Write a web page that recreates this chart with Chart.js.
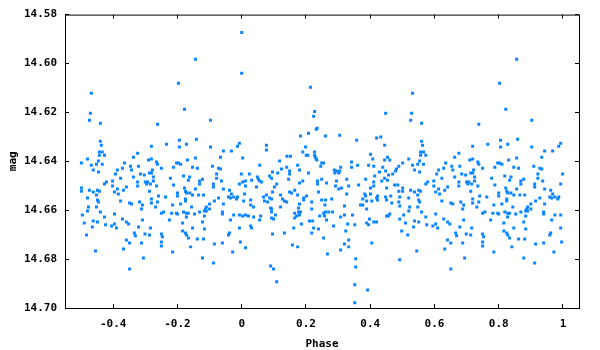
<!DOCTYPE html>
<html>
<head>
<meta charset="utf-8">
<script src="https://cdn.jsdelivr.net/npm/chart.js@4.4.1/dist/chart.umd.min.js"></script>
<style>
  html, body { margin: 0; padding: 0; background: #fff; }
  #wrap { width: 600px; height: 350px; }
</style>
</head>
<body>
<div id="wrap"><canvas id="lightCurve" width="600" height="350"></canvas></div>
<script>
// folded light curve, phase 0..1 (phases >= 0.5 are repeated at phase - 1)
const phase = [
  0.000, 0.000, 0.214, 0.227, 0.532, 0.448, 0.529, 0.856, 0.803, 0.822,
  0.224, 0.235, 0.232, 0.208, 0.183, 0.261, 0.305, 0.077, 0.077, 0.199,
  0.190, 0.227, 0.201, 0.206, 0.227, 0.229, 0.232, 0.234, 0.003, 0.141,
  0.152, 0.118, 0.249, 0.255, 0.056, 0.140, 0.174, 0.246, 0.124, 0.180,
  0.096, 0.112, 0.149, 0.149, 0.208, 0.288, 0.295, 0.305, 0.290, 0.302,
  0.308, 0.024, 0.087, 0.093, 0.049, 0.052, 0.056, 0.062, 0.031, 0.012,
  0.003, 0.146, 0.249, 0.190, 0.180, 0.236, 0.236, 0.264, 0.109, 0.102,
  0.046, 0.012, 0.295, 0.327, 0.333, 0.292, 0.311, 0.302, 0.165, 0.149,
  0.155, 0.239, 0.096, 0.009, 0.077, 0.068, 0.087, 0.093, 0.121, 0.174,
  0.202, 0.193, 0.193, 0.327, 0.127, 0.133, 0.140, 0.028, 0.006, 0.071,
  0.081, 0.249, 0.280, 0.261, 0.218, 0.180, 0.028, 0.037, 0.090, 0.093,
  0.121, 0.177, 0.218, 0.259, 0.320,
  0.003, 0.012, 0.021, 0.037, 0.059, 0.056, 0.093, 0.105, 0.093, 0.099,
  0.028, 0.031, 0.096, 0.133, 0.012, 0.165, 0.177, 0.183, 0.171, 0.165,
  0.180, 0.186, 0.162, 0.158, 0.174, 0.090, 0.099, 0.109, 0.211, 0.221,
  0.224, 0.239, 0.218, 0.243, 0.255, 0.258, 0.261, 0.271, 0.283, 0.264,
  0.286, 0.255, 0.267, 0.308, 0.320, 0.330, 0.324, 0.333, 0.320, 0.333,
  0.308,
  0.526, 0.560, 0.358, 0.420, 0.433, 0.445, 0.560, 0.563, 0.401, 0.454,
  0.445, 0.461, 0.408, 0.557, 0.566, 0.557, 0.573, 0.554, 0.548, 0.566,
  0.520, 0.342, 0.342, 0.361, 0.395, 0.411, 0.439, 0.501, 0.489, 0.532,
  0.482, 0.538, 0.554, 0.429, 0.448, 0.457, 0.470, 0.479, 0.635, 0.654,
  0.663, 0.676, 0.657, 0.613, 0.629, 0.607, 0.414, 0.386, 0.445, 0.454,
  0.436, 0.623, 0.598, 0.579, 0.573, 0.663, 0.676, 0.676, 0.411, 0.411,
  0.401, 0.364, 0.476, 0.486, 0.501, 0.501, 0.489, 0.451, 0.526, 0.538,
  0.551, 0.557, 0.598, 0.613, 0.604, 0.616, 0.632, 0.641, 0.548, 0.383,
  0.386, 0.401, 0.423, 0.423, 0.420, 0.405, 0.389, 0.377, 0.448, 0.451,
  0.464, 0.467, 0.492, 0.489, 0.520, 0.551, 0.554, 0.370, 0.377, 0.389,
  0.492, 0.523, 0.548, 0.623, 0.651, 0.657,
  0.345, 0.352, 0.389, 0.395, 0.398, 0.411, 0.420, 0.451, 0.461, 0.457,
  0.492, 0.504, 0.520, 0.510, 0.538, 0.551, 0.535, 0.560, 0.573, 0.576,
  0.595, 0.604, 0.604, 0.610, 0.629, 0.641, 0.648, 0.498, 0.517, 0.405,
  0.545, 0.492, 0.355, 0.355, 0.352, 0.392, 0.352, 0.641, 0.651, 0.632,
  0.651, 0.666, 0.669, 0.679,
  0.903, 0.738, 0.806, 0.806, 0.859, 0.719, 0.766, 0.828, 0.903, 0.993,
  0.987, 0.943, 0.968, 0.934, 0.679, 0.710, 0.719, 0.735, 0.738, 0.788,
  0.797, 0.803, 0.810, 0.831, 0.856, 0.847, 0.862, 0.909, 0.928, 0.934,
  0.750, 0.722, 0.719, 0.685, 0.697, 0.713, 0.999, 0.700, 0.707, 0.704,
  0.716, 0.725, 0.725, 0.735, 0.713, 0.778, 0.788, 0.819, 0.838, 0.834,
  0.869, 0.869, 0.878, 0.912, 0.912, 0.922, 0.922, 0.937, 0.993, 0.822,
  0.825, 0.828, 0.838, 0.800, 0.800, 0.847, 0.866, 0.881, 0.856, 0.943,
  0.962, 0.968, 0.959, 0.965, 0.975, 0.984, 0.987, 0.928, 0.741, 0.763,
  0.719, 0.682, 0.691, 0.719, 0.738, 0.825, 0.825, 0.810, 0.785, 0.915,
  0.900, 0.943, 0.688, 0.732, 0.887, 0.890, 0.900, 0.844,
  0.750, 0.757, 0.782, 0.797, 0.800, 0.819, 0.828, 0.834, 0.828, 0.853,
  0.869, 0.884, 0.890, 0.884, 0.940, 0.940, 0.975, 0.993, 0.775, 0.691,
  0.716, 0.699, 0.713, 0.750, 0.753, 0.816, 0.847, 0.816, 0.825, 0.828,
  0.834, 0.878, 0.884, 0.862, 0.881, 0.965, 0.993, 0.962, 0.959, 0.688,
  0.750, 0.750, 0.841, 0.915, 0.940, 0.996, 0.785, 0.972, 0.694, 0.878,
  0.912
];

const mag = [
  14.5873, 14.6040, 14.6097, 14.6196, 14.6122, 14.6203, 14.6203, 14.5983, 14.6081, 14.6187,
  14.6216, 14.6265, 14.6269, 14.6285, 14.6297, 14.6297, 14.6293, 14.6334, 14.6354, 14.6342,
  14.6362, 14.6362, 14.6375, 14.6375, 14.6375, 14.6383, 14.6391, 14.6395, 14.6387, 14.6379,
  14.6379, 14.6399, 14.6407, 14.6407, 14.6416, 14.6424, 14.6416, 14.6420, 14.6432, 14.6436,
  14.6444, 14.6448, 14.6440, 14.6452, 14.6448, 14.6436, 14.6440, 14.6440, 14.6448, 14.6448,
  14.6424, 14.6452, 14.6460, 14.6469, 14.6464, 14.6473, 14.6481, 14.6485, 14.6477, 14.6481,
  14.6485, 14.6473, 14.6473, 14.6481, 14.6489, 14.6481, 14.6493, 14.6489, 14.6493, 14.6505,
  14.6505, 14.6501, 14.6481, 14.6473, 14.6501, 14.6501, 14.6509, 14.6513, 14.6518, 14.6526,
  14.6530, 14.6526, 14.6526, 14.6534, 14.6538, 14.6546, 14.6550, 14.6554, 14.6538, 14.6538,
  14.6542, 14.6550, 14.6558, 14.6534, 14.6554, 14.6562, 14.6566, 14.6558, 14.6562, 14.6562,
  14.6566, 14.6558, 14.6554, 14.6558, 14.6566, 14.6575, 14.6579, 14.6587, 14.6591, 14.6595,
  14.6587, 14.6591, 14.6595, 14.6579, 14.6583,
  14.6624, 14.6620, 14.6624, 14.6628, 14.6624, 14.6640, 14.6607, 14.6620, 14.6632, 14.6636,
  14.6665, 14.6673, 14.6697, 14.6693, 14.6754, 14.6612, 14.6607, 14.6607, 14.6624, 14.6632,
  14.6620, 14.6656, 14.6673, 14.6742, 14.6750, 14.6828, 14.6840, 14.6893, 14.6644, 14.6644,
  14.6673, 14.6677, 14.6693, 14.6624, 14.6612, 14.6624, 14.6607, 14.6607, 14.6607, 14.6640,
  14.6665, 14.6714, 14.6779, 14.6628, 14.6620, 14.6656, 14.6685, 14.6722, 14.6738, 14.6750,
  14.6763,
  14.6232, 14.6244, 14.6314, 14.6305, 14.6301, 14.6334, 14.6318, 14.6334, 14.6371, 14.6383,
  14.6395, 14.6395, 14.6391, 14.6362, 14.6362, 14.6375, 14.6375, 14.6399, 14.6412, 14.6412,
  14.6391, 14.6403, 14.6424, 14.6416, 14.6416, 14.6420, 14.6424, 14.6407, 14.6420, 14.6416,
  14.6432, 14.6436, 14.6444, 14.6444, 14.6440, 14.6456, 14.6452, 14.6440, 14.6407, 14.6420,
  14.6383, 14.6367, 14.6436, 14.6436, 14.6428, 14.6452, 14.6460, 14.6473, 14.6469, 14.6477,
  14.6481, 14.6469, 14.6481, 14.6485, 14.6493, 14.6464, 14.6485, 14.6501, 14.6485, 14.6501,
  14.6509, 14.6497, 14.6497, 14.6497, 14.6509, 14.6522, 14.6522, 14.6509, 14.6518, 14.6526,
  14.6518, 14.6522, 14.6501, 14.6513, 14.6526, 14.6534, 14.6518, 14.6505, 14.6538, 14.6534,
  14.6542, 14.6534, 14.6542, 14.6558, 14.6550, 14.6562, 14.6562, 14.6554, 14.6546, 14.6558,
  14.6542, 14.6571, 14.6546, 14.6566, 14.6550, 14.6558, 14.6566, 14.6579, 14.6579, 14.6595,
  14.6583, 14.6587, 14.6587, 14.6562, 14.6571, 14.6575,
  14.6620, 14.6660, 14.6652, 14.6660, 14.6636, 14.6648, 14.6648, 14.6624, 14.6616, 14.6624,
  14.6636, 14.6620, 14.6603, 14.6652, 14.6644, 14.6648, 14.6669, 14.6607, 14.6628, 14.6660,
  14.6665, 14.6616, 14.6656, 14.6673, 14.6636, 14.6648, 14.6656, 14.6685, 14.6701, 14.6734,
  14.6767, 14.6803, 14.6799, 14.6832, 14.6905, 14.6926, 14.6979, 14.6722, 14.6734, 14.6759,
  14.6840, 14.6693, 14.6705, 14.6669,
  14.6232, 14.6248, 14.6314, 14.6342, 14.6310, 14.6338, 14.6330, 14.6330, 14.6342, 14.6326,
  14.6338, 14.6358, 14.6358, 14.6383, 14.6420, 14.6395, 14.6391, 14.6403, 14.6412, 14.6424,
  14.6407, 14.6407, 14.6412, 14.6395, 14.6387, 14.6424, 14.6428, 14.6420, 14.6428, 14.6432,
  14.6428, 14.6436, 14.6448, 14.6452, 14.6456, 14.6448, 14.6452, 14.6485, 14.6485, 14.6493,
  14.6493, 14.6464, 14.6481, 14.6501, 14.6522, 14.6469, 14.6497, 14.6460, 14.6464, 14.6477,
  14.6481, 14.6493, 14.6473, 14.6493, 14.6505, 14.6452, 14.6469, 14.6481, 14.6493, 14.6509,
  14.6522, 14.6530, 14.6530, 14.6530, 14.6542, 14.6538, 14.6538, 14.6538, 14.6513, 14.6513,
  14.6518, 14.6534, 14.6546, 14.6550, 14.6546, 14.6554, 14.6546, 14.6550, 14.6542, 14.6546,
  14.6554, 14.6566, 14.6579, 14.6571, 14.6566, 14.6554, 14.6562, 14.6575, 14.6579, 14.6562,
  14.6575, 14.6575, 14.6595, 14.6587, 14.6595, 14.6587, 14.6595, 14.6587,
  14.6612, 14.6607, 14.6612, 14.6612, 14.6616, 14.6607, 14.6612, 14.6612, 14.6628, 14.6616,
  14.6607, 14.6603, 14.6603, 14.6624, 14.6607, 14.6616, 14.6620, 14.6620, 14.6640, 14.6640,
  14.6673, 14.6697, 14.6701, 14.6697, 14.6709, 14.6652, 14.6673, 14.6685, 14.6693, 14.6701,
  14.6714, 14.6648, 14.6677, 14.6718, 14.6718, 14.6640, 14.6673, 14.6693, 14.6701, 14.6734,
  14.6730, 14.6746, 14.6750, 14.6738, 14.6734, 14.6730, 14.6771, 14.6771, 14.6795, 14.6795,
  14.6816
];

const xTicks = [-0.4, -0.2, 0, 0.2, 0.4, 0.6, 0.8, 1];
const yTicks = [14.58, 14.60, 14.62, 14.64, 14.66, 14.68, 14.70];

const points = [];
phase.forEach((p, i) => {
  points.push({ x: p, y: mag[i] });
  if (p >= 0.5) points.push({ x: p - 1, y: mag[i] });
});

const labelFont = { family: "'DejaVu Sans Mono', monospace", size: 11, weight: 'bold' };

// gnuplot style box with inward ticks on all four sides
const frame = {
  id: 'frame',
  afterDraw(chart) {
    const { ctx, chartArea: a, scales } = chart;
    const len = 4;
    ctx.save();
    ctx.strokeStyle = '#000';
    ctx.lineWidth = 1;
    ctx.strokeRect(a.left + 0.5, a.top + 0.5, a.right - a.left, a.bottom - a.top);
    ctx.beginPath();
    xTicks.forEach(v => {
      const px = Math.floor(scales.x.getPixelForValue(v)) + 0.5;
      ctx.moveTo(px, a.bottom); ctx.lineTo(px, a.bottom - len);
      ctx.moveTo(px, a.top); ctx.lineTo(px, a.top + len);
    });
    yTicks.forEach(v => {
      const py = Math.floor(scales.y.getPixelForValue(v)) + 0.5;
      ctx.moveTo(a.left, py); ctx.lineTo(a.left + len, py);
      ctx.moveTo(a.right, py); ctx.lineTo(a.right - len, py);
    });
    ctx.stroke();
    ctx.restore();
  }
};

new Chart(document.getElementById('lightCurve').getContext('2d'), {
  type: 'scatter',
  data: {
    datasets: [{
      data: points,
      pointStyle: 'rect',
      pointRadius: 2.12,
      borderWidth: 0,
      backgroundColor: '#0a84ff'
    }]
  },
  options: {
    responsive: false,
    animation: false,
    events: [],
    layout: { padding: { top: 14, right: 21, left: 0, bottom: 0 } },
    plugins: { legend: { display: false }, tooltip: { enabled: false } },
    scales: {
      x: {
        type: 'linear',
        min: -0.55,
        max: 1.05,
        afterBuildTicks: s => { s.ticks = xTicks.map(v => ({ value: v })); },
        afterFit: s => { s.height = 42; },
        grid: { display: false, drawTicks: false },
        border: { display: false },
        ticks: {
          padding: 10,
          color: '#000',
          font: labelFont,
          maxRotation: 0,
          autoSkip: false,
          callback: v => String(Math.round(v * 10) / 10)
        },
        title: { display: true, text: 'Phase', color: '#000', font: { ...labelFont, lineHeight: 1 }, padding: 0 }
      },
      y: {
        type: 'linear',
        reverse: true,
        min: 14.58,
        max: 14.70,
        afterBuildTicks: s => { s.ticks = yTicks.map(v => ({ value: v })); },
        afterFit: s => { s.width = 65; },
        grid: { display: false, drawTicks: false },
        border: { display: false },
        ticks: {
          padding: 8,
          color: '#000',
          font: labelFont,
          autoSkip: false,
          callback: v => v.toFixed(2)
        },
        title: { display: true, text: 'mag', color: '#000', font: { ...labelFont, lineHeight: 1 }, padding: { top: 8, bottom: 0 } }
      }
    }
  },
  plugins: [frame]
});
</script>
</body>
</html>
